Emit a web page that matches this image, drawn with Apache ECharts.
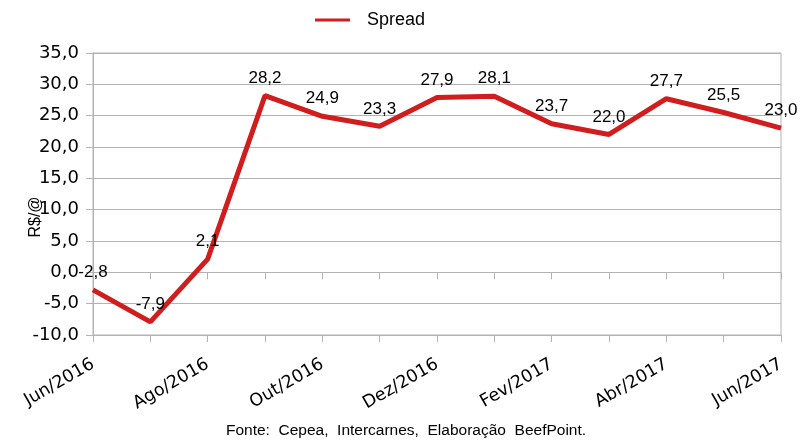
<!DOCTYPE html>
<html>
<head>
<meta charset="utf-8">
<script src="https://cdn.jsdelivr.net/npm/echarts@6/dist/echarts.min.js"></script>
<style>html,body{margin:0;padding:0;background:#fff}#c{width:812px;height:443px}</style>
</head>
<body>
<div id="c"></div>
<script>
var categories = ['Jun/2016','Jul/2016','Ago/2016','Set/2016','Out/2016','Nov/2016','Dez/2016','Jan/2017','Fev/2017','Mar/2017','Abr/2017','Mai/2017','Jun/2017'];
var spread = [-2.8, -7.9, 2.1, 28.2, 24.9, 23.3, 27.9, 28.1, 23.7, 22.0, 27.7, 25.5, 23.0];
var seriesName = 'Spread';
var yAxisName = 'R$/@';
var sourceText = 'Fonte:  Cepea,  Intercarnes,  Elaboração  BeefPoint.';

function fmt(v){ return v.toFixed(1).replace('.', ','); }
var GRID = '#b3b3b3';
var RED = '#d11d1d';
var chart = echarts.init(document.getElementById('c'), null, {renderer:'canvas'});
chart.setOption({
  animation:false,
  backgroundColor:'#fff',
  legend:{
    data:[{name:seriesName, icon:'rect'}], left:310, top:6, itemWidth:35, itemHeight:3,
    itemStyle:{color:RED},
    textStyle:{fontFamily:'Liberation Sans', fontSize:18, color:'#000', padding:[0,0,0,12]}
  },
  title:{
    text:sourceText, left:'center', bottom:4, padding:0,
    textStyle:{fontFamily:'Liberation Sans', fontSize:15.5, fontWeight:'normal', color:'#000'}
  },
  graphic:[{
    type:'text', x:36, y:217, rotation:Math.PI/2,
    style:{text:yAxisName, fontFamily:'Liberation Sans', fontSize:16, fill:'#000', align:'center', verticalAlign:'middle'}
  }],
  grid:{left:93, right:31, top:53, bottom:108, show:true, borderColor:GRID, borderWidth:1},
  xAxis:[{
    type:'category', data:categories, boundaryGap:false, position:'bottom',
    axisLine:{show:false, onZero:false},
    axisTick:{show:true, interval:0, length:7, lineStyle:{color:GRID}},
    axisLabel:{interval:1, rotate:30, margin:28, fontFamily:'DejaVu Sans', fontSize:17.5, color:'#000'},
    splitLine:{show:false}
  },{
    type:'category', data:categories, boundaryGap:false, position:'top',
    axisLine:{show:true, onZero:true, lineStyle:{color:GRID, width:1}},
    axisTick:{show:true, inside:true, interval:0, length:7, lineStyle:{color:GRID}},
    axisLabel:{show:false},
    splitLine:{show:false}
  }],
  yAxis:{
    type:'value', min:-10, max:35, interval:5,
    axisLine:{show:true, lineStyle:{color:GRID}},
    axisTick:{show:true, length:7, lineStyle:{color:GRID}},
    axisLabel:{formatter:fmt, margin:14, fontFamily:'DejaVu Sans', fontSize:18, color:'#000'},
    splitLine:{show:true, lineStyle:{color:GRID, width:1}}
  },
  series:[{
    name:seriesName, type:'line', data:spread, xAxisIndex:0,
    symbol:'circle', symbolSize:0, showSymbol:true,
    lineStyle:{color:RED, width:5}, itemStyle:{color:RED},
    label:{show:true, position:'top', distance:9, formatter:function(p){return fmt(p.value);},
      fontFamily:'Liberation Sans', fontSize:17, color:'#000'}
  }]
});
</script>
</body>
</html>
